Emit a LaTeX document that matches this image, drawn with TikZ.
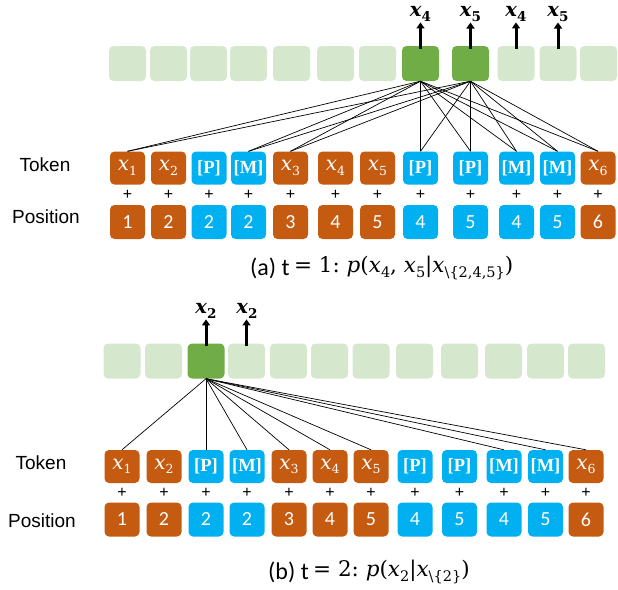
\documentclass[tikz,border=0pt]{standalone}
\usepackage[no-math]{fontspec}
\setmainfont{Carlito}
\newfontfamily\arialf{Liberation Sans}
\newfontfamily\serifbf{Liberation Serif}
\newfontfamily\mathf{DejaVu Serif}
\usetikzlibrary{arrows.meta}
\definecolor{lgreen}{HTML}{D5E8CD}
\definecolor{dgreen}{HTML}{70AD47}
\definecolor{orng}{HTML}{C55A11}
\definecolor{blu}{HTML}{00B0F0}
\newcommand{\sub}[2]{\raisebox{-0.22em}{\fontsize{#1}{#1}\selectfont #2}}
\newcommand{\TX}[1]{{\mathf\itshape x\sub{12.5}{\upshape #1}}}
\newcommand{\OX}[1]{{\mathf\bfseries\itshape x\sub{13.5}{\upshape #1}}}
\newcommand{\TP}{{\serifbf\bfseries [P]}}
\newcommand{\TM}{{\serifbf\bfseries [M]}}
\newcommand{\mx}{\textit{x}}
\tikzset{
  cell/.style={rounded corners=4.5pt, inner sep=0pt, text=white},
  lg/.style={cell, fill=lgreen, minimum width=37pt, minimum height=35pt},
  dg/.style={cell, fill=dgreen, minimum width=37pt, minimum height=35pt},
  tokO/.style={cell, fill=orng, minimum width=35pt, minimum height=33pt, font=\fontsize{20}{22}\selectfont},
  tokB/.style={cell, fill=blu, minimum width=35pt, minimum height=33pt, font=\fontsize{18.5}{20}\selectfont},
  posO/.style={cell, fill=orng, minimum width=35pt, minimum height=34pt, font=\fontsize{20}{20}\selectfont},
  posB/.style={cell, fill=blu, minimum width=35pt, minimum height=34pt, font=\fontsize{20}{20}\selectfont},
  plus/.style={inner sep=0pt, font=\arialf\fontsize{16}{16}\selectfont},
  rowlab/.style={inner sep=0pt, font=\arialf\fontsize{19}{20}\selectfont},
  outlab/.style={inner sep=1pt, font=\fontsize{19.5}{20}\selectfont},
  conn/.style={draw=black, line width=0.7pt},
  outarrow/.style={draw=black, line width=3pt, -{Triangle[width=8pt,length=6pt]}},
  captxt/.style={inner sep=0pt, font=\fontsize{24}{26}\selectfont},
  capmath/.style={font=\mathf\fontsize{21.5}{24}\selectfont},
}
\begin{document}
\begin{tikzpicture}[x=1pt,y=-1pt]
\useasboundingbox (0,0) rectangle (618,589);
% ---------- panel (a) ----------
\foreach \cx/\st [count=\i] in {127.5/lg,168.5/lg,208.5/lg,248.5/lg,291.5/lg,335.5/lg,377.5/lg,420.5/dg,470.5/dg,516/lg,558/lg,598.5/lg}
  \node[\st] (ga\i) at (\cx,63.5) {};
\foreach \cx/\st/\lab/\pst/\pos [count=\i] in {
  127.5/tokO/{\TX{1}}/posO/1, 168.5/tokO/{\TX{2}}/posO/2, 209/tokB/{\TP}/posB/2,
  248.5/tokB/{\TM}/posB/2, 290.5/tokO/{\TX{3}}/posO/3, 335.5/tokO/{\TX{4}}/posO/4,
  377.5/tokO/{\TX{5}}/posO/5, 420.5/tokB/{\TP}/posB/4, 470.5/tokB/{\TP}/posB/5,
  516.5/tokB/{\TM}/posB/4, 557.5/tokB/{\TM}/posB/5, 598/tokO/{\TX{6}}/posO/6}
{
  \node[\st] (ta\i) at (\cx,168) {\lab};
  \node[plus] (pa\i) at (\cx,195) {+};
  \node[\pst] (qa\i) at (\cx,222) {\pos};
}
\node[rowlab] (toka) at (45,165) {Token};
\node[rowlab] (posa) at (46,217) {Position};
\foreach \g in {8,9}
  \foreach \t in {1,4,5,8,9,10,11,12}
    \draw[conn] (ga\g.south) -- (ta\t.north);
\node[outlab] (la1) at (420.5,14) {\OX{4}};
\node[outlab] (la2) at (470.5,14) {\OX{5}};
\node[outlab] (la3) at (516,14) {\OX{4}};
\node[outlab] (la4) at (558,14) {\OX{5}};
\draw[outarrow] ([yshift=-3pt]ga8.north) -- (ga8.north |- la1.south);
\draw[outarrow] ([yshift=-3pt]ga9.north) -- (ga9.north |- la2.south);
\draw[outarrow] ([yshift=-3pt]ga10.north) -- (ga10.north |- la3.south);
\draw[outarrow] ([yshift=-3pt]ga11.north) -- (ga11.north |- la4.south);
\node[captxt, anchor=west] (capa) at (250,268) {(a) t};
\node[captxt, capmath, anchor=west] (capam) at ([xshift=4pt]capa.east) {= 1:\ \textit{p}(\mx\sub{14.5}{4}, \mx\sub{14.5}{5}|\mx\sub{14.5}{\textbackslash\{2,4,5\}})};
% ---------- panel (b) ----------
\foreach \cx/\st [count=\i] in {122/lg,163.5/lg,206/dg,246.5/lg,288.5/lg,329.5/lg,371/lg,414.5/lg,459.5/lg,503.5/lg,545.5/lg,586.5/lg}
  \node[\st] (gb\i) at (\cx,361) {};
\foreach \cx/\st/\lab/\pst/\pos [count=\i] in {
  122/tokO/{\TX{1}}/posO/1, 164/tokO/{\TX{2}}/posO/2, 206/tokB/{\TP}/posB/2,
  247/tokB/{\TM}/posB/2, 289/tokO/{\TX{3}}/posO/3, 330/tokO/{\TX{4}}/posO/4,
  371/tokO/{\TX{5}}/posO/5, 415/tokB/{\TP}/posB/4, 459.5/tokB/{\TP}/posB/5,
  504/tokB/{\TM}/posB/4, 545.5/tokB/{\TM}/posB/5, 586/tokO/{\TX{6}}/posO/6}
{
  \node[\st] (tb\i) at (\cx,466.5) {\lab};
  \node[plus] (pb\i) at (\cx,493) {+};
  \node[\pst] (qb\i) at (\cx,519.5) {\pos};
}
\node[rowlab] (tokb) at (41,463) {Token};
\node[rowlab] (posb) at (42,521) {Position};
\foreach \t in {1,3,4,5,6,7,10,11,12}
  \draw[conn] (gb3.south) -- (tb\t.north);
\node[outlab] (lb1) at (206,311) {\OX{2}};
\node[outlab] (lb2) at (247,311) {\OX{2}};
\draw[outarrow] ([yshift=-3pt]gb3.north) -- (gb3.north |- lb1.south);
\draw[outarrow] ([yshift=-3pt]gb4.north) -- (gb4.north |- lb2.south);
\node[captxt, anchor=west] (capb) at (268,572) {(b) t};
\node[captxt, capmath, anchor=west] (capbm) at ([xshift=4pt]capb.east) {= 2:\ \textit{p}(\mx\sub{14.5}{2}|\mx\sub{14.5}{\textbackslash\{2\}})};
\end{tikzpicture}
\end{document}
